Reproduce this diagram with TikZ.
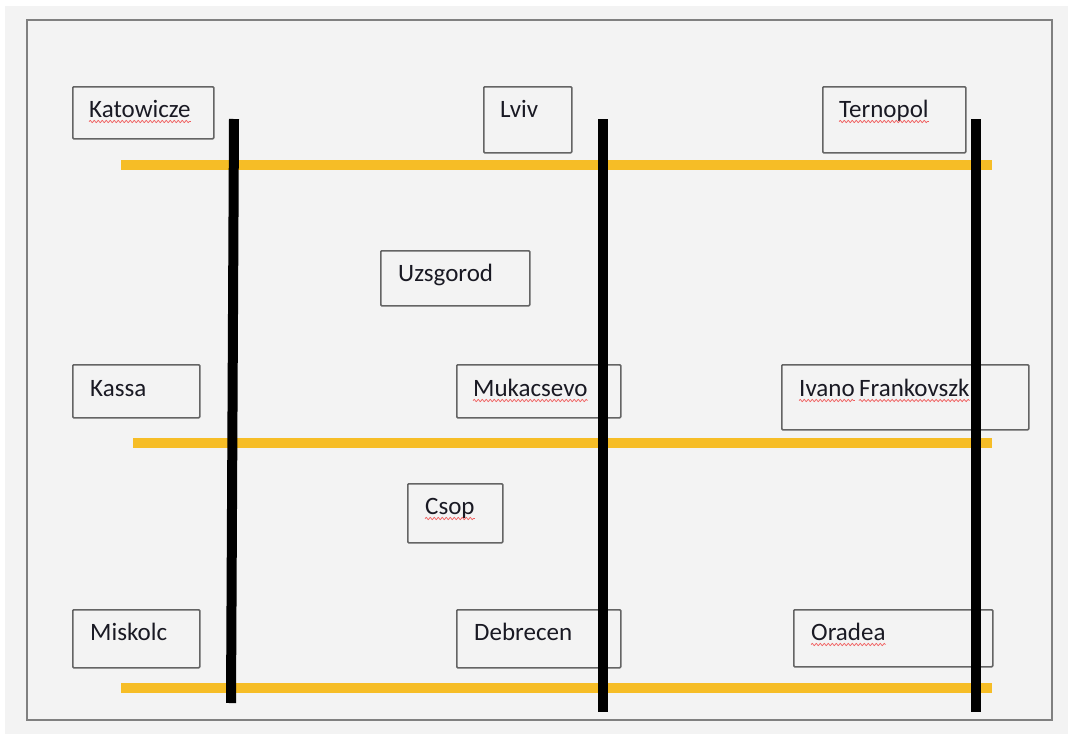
\documentclass[tikz,border=0pt]{standalone}
\usepackage{fontspec}
\setmainfont{Carlito}
\usetikzlibrary{decorations.pathmorphing}
\definecolor{bggray}{RGB}{243,243,243}
\definecolor{framegray}{RGB}{128,128,128}
\definecolor{boxgray}{RGB}{100,100,100}
\definecolor{railorange}{RGB}{246,189,38}
\definecolor{squigred}{RGB}{240,90,90}
\definecolor{txtcol}{RGB}{25,25,35}
\tikzset{
  citybox/.style={draw=boxgray, line width=1.5pt, fill=none, rounded corners=1pt, inner sep=0pt, anchor=north west},
  citytxt/.style={inner sep=0pt, anchor=base west, font=\fontsize{25}{29}\selectfont, text=txtcol},
  hrail/.style={draw=railorange, line width=9.5pt},
  vrail/.style={draw=black, line width=10pt},
  squig/.style={draw=squigred, line width=0.7pt, decorate, decoration={snake, segment length=4pt, amplitude=1.1pt}},
}
\newcommand{\squigunder}[1]{\draw[squig] ([yshift=-4.5pt]#1.base west) -- ([yshift=-4.5pt]#1.base east);}
\begin{document}
\begin{tikzpicture}[x=1pt,y=-1pt]
\useasboundingbox (0,0) rectangle (1068,734);
\fill[white] (0,0) rectangle (1068,734);
\fill[bggray] (5,6) rectangle (1068,734);
\draw[framegray, line width=1.5pt] (27,20) rectangle (1052,720);

% boxes
\node[citybox, minimum width=141pt, minimum height=52pt] (katbox) at (72,86) {};
\node[citybox, minimum width=88pt, minimum height=66pt] (lvivbox) at (483,86) {};
\node[citybox, minimum width=143pt, minimum height=66pt] (terbox) at (822,86) {};
\node[citybox, minimum width=149pt, minimum height=55pt] (uzsbox) at (380,250) {};
\node[citybox, minimum width=127pt, minimum height=53pt] (kasbox) at (72,364) {};
\node[citybox, minimum width=164pt, minimum height=53pt] (mukbox) at (456,364) {};
\node[citybox, minimum width=247pt, minimum height=65pt] (ivabox) at (781,364) {};
\node[citybox, minimum width=95pt, minimum height=59pt] (csobox) at (407,483) {};
\node[citybox, minimum width=127pt, minimum height=58pt] (misbox) at (72,609) {};
\node[citybox, minimum width=164pt, minimum height=58pt] (debbox) at (456,609) {};
\node[citybox, minimum width=199pt, minimum height=57pt] (orabox) at (793,609) {};

% texts
\node[citytxt] (kat) at ([xshift=17pt,yshift=-31pt]katbox.north west) {Katowicze};
\node[citytxt] (lviv) at ([xshift=17pt,yshift=-31pt]lvivbox.north west) {Lviv};
\node[citytxt] (ter) at ([xshift=17pt,yshift=-31pt]terbox.north west) {Ternopol};
\node[citytxt] (uzs) at ([xshift=18pt,yshift=-31pt]uzsbox.north west) {Uzsgorod};
\node[citytxt] (kas) at ([xshift=18pt,yshift=-32pt]kasbox.north west) {Kassa};
\node[citytxt] (muk) at ([xshift=17pt,yshift=-32pt]mukbox.north west) {Mukacsevo};
\node[citytxt] (iva1) at ([xshift=18pt,yshift=-32pt]ivabox.north west) {Ivano};
\node[citytxt] (iva2) at ([xshift=4pt]iva1.base east) {Frankovszk};
\node[citytxt] (cso) at ([xshift=18pt,yshift=-31pt]csobox.north west) {Csop};
\node[citytxt] (mis) at ([xshift=18pt,yshift=-31pt]misbox.north west) {Miskolc};
\node[citytxt] (deb) at ([xshift=18pt,yshift=-31pt]debbox.north west) {Debrecen};
\node[citytxt] (ora) at ([xshift=18pt,yshift=-31pt]orabox.north west) {Oradea};

% spell-check squiggles
\squigunder{kat}
\squigunder{ter}
\squigunder{muk}
\squigunder{iva1}
\squigunder{iva2}
\squigunder{cso}
\squigunder{ora}

% rail end points
\coordinate (h1a) at (121,165); \coordinate (h1b) at (992,165);
\coordinate (h2a) at (133,443); \coordinate (h2b) at (992,443);
\coordinate (h3a) at (121,688); \coordinate (h3b) at (992,688);
\coordinate (v1a) at (234,119); \coordinate (v1b) at (231,703);
\coordinate (v2a) at (603,119); \coordinate (v2b) at (603,712);
\coordinate (v3a) at (976,119); \coordinate (v3b) at (976,712);

\draw[hrail] (h1a) -- (h1b);
\draw[hrail] (h2a) -- (h2b);
\draw[hrail] (h3a) -- (h3b);
\draw[vrail] (v1a) -- (v1b);
\draw[vrail] (v2a) -- (v2b);
\draw[vrail] (v3a) -- (v3b);
\end{tikzpicture}
\end{document}
